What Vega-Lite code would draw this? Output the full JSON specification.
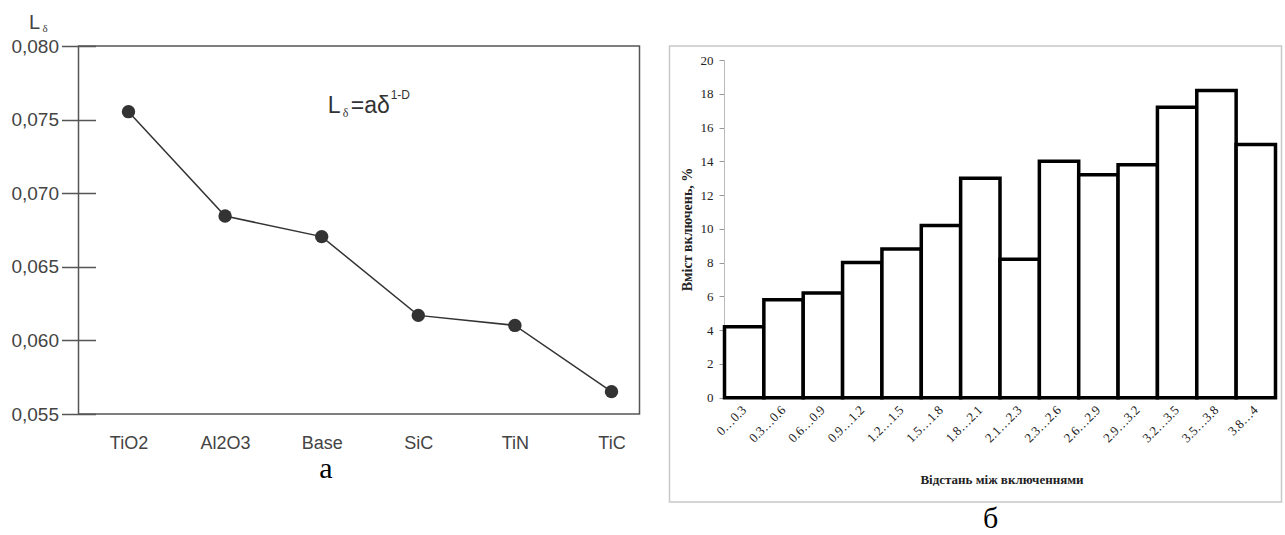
{
  "$schema": "https://vega.github.io/schema/vega-lite/v6.json",
  "background": "white",
  "padding": {"left": 9.5, "top": 11, "right": 0, "bottom": 0},
  "autosize": {"type": "pad"},
  "spacing": 30,
  "bounds": "flush",
  "config": {"font": "Liberation Sans", "axis": {"grid": false}},
  "datasets": {
    "ld": [
      {"material": "TiO2", "L": 0.07554},
      {"material": "Al2O3", "L": 0.06845},
      {"material": "Base", "L": 0.06705},
      {"material": "SiC", "L": 0.0617},
      {"material": "TiN", "L": 0.06102},
      {"material": "TiC", "L": 0.05652}
    ],
    "incl": [
      {"range": "0…0.3", "pct": 4.2},
      {"range": "0.3…0.6", "pct": 5.8},
      {"range": "0.6…0.9", "pct": 6.2},
      {"range": "0.9…1.2", "pct": 8.0},
      {"range": "1.2…1.5", "pct": 8.8},
      {"range": "1.5…1.8", "pct": 10.2},
      {"range": "1.8…2.1", "pct": 13.0},
      {"range": "2.1…2.3", "pct": 8.2},
      {"range": "2.3…2.6", "pct": 14.0},
      {"range": "2.6…2.9", "pct": 13.2},
      {"range": "2.9…3.2", "pct": 13.8},
      {"range": "3.2…3.5", "pct": 17.2},
      {"range": "3.5…3.8", "pct": 18.2},
      {"range": "3.8…4", "pct": 15.0}
    ],
    "one": [{"k": 1}]
  },
  "hconcat": [
    {
      "width": 561,
      "height": 368,
      "view": {"stroke": "#555", "strokeWidth": 1.5},
      "title": {"text": "а", "orient": "bottom", "font": "Liberation Serif", "fontSize": 30, "fontWeight": "normal", "color": "#000", "anchor": "middle", "dx": -33, "offset": 2},
      "layer": [
        {"data": {"name": "ld"}, "mark": {"type": "line", "color": "#333", "strokeWidth": 1.5},
          "encoding": {
            "x": {"field": "material", "type": "nominal", "sort": null,
              "scale": {"type": "point", "padding": 0.4037, "align": 0.641},
              "axis": {"title": null, "domain": false, "ticks": false, "labelAngle": 0, "labelFontSize": 18, "labelColor": "#444", "labelPadding": 20, "labelFont": "Liberation Sans"}},
            "y": {"field": "L", "type": "quantitative",
              "scale": {"domain": [0.055, 0.08], "nice": false, "zero": false},
              "axis": {"values": [0.055, 0.06, 0.065, 0.07, 0.075, 0.08],
                "labelExpr": "replace(format(datum.value, '.3f'), '.', ',')",
                "offset": -17, "domain": false, "tickSize": 34, "tickColor": "#555", "tickWidth": 1.5,
                "labelPadding": 3, "labelFontSize": 19, "labelColor": "#444", "labelFont": "Liberation Sans",
                "title": "L", "titleAngle": 0, "titleX": -67, "titleY": -18, "titleAlign": "left", "titleBaseline": "alphabetic",
                "titleFontSize": 20, "titleFontWeight": "normal", "titleColor": "#444", "titleFont": "Liberation Sans"}}
          }},
        {"data": {"name": "ld"}, "mark": {"type": "point", "filled": true, "size": 180, "color": "#333", "opacity": 1},
          "encoding": {
            "x": {"field": "material", "type": "nominal", "sort": null},
            "y": {"field": "L", "type": "quantitative"}
          }},
        {"data": {"name": "one"}, "mark": {"type": "text", "align": "left", "baseline": "alphabetic", "dx": -86, "dy": -14, "font": "Liberation Serif", "fontSize": 11, "color": "#444"},
          "encoding": {"x": {"datum": "TiO2", "type": "nominal"}, "y": {"datum": 0.08, "type": "quantitative"}, "text": {"value": "δ"}}},
        {"data": {"name": "one"}, "mark": {"type": "text", "align": "left", "baseline": "alphabetic", "dx": 6, "dy": 1, "font": "Liberation Sans", "fontSize": 23, "color": "#333"},
          "encoding": {"x": {"datum": "Base", "type": "nominal"}, "y": {"datum": 0.0755, "type": "quantitative"}, "text": {"value": "L"}}},
        {"data": {"name": "one"}, "mark": {"type": "text", "align": "left", "baseline": "alphabetic", "dx": 21, "dy": 5, "font": "Liberation Serif", "fontSize": 12, "color": "#333"},
          "encoding": {"x": {"datum": "Base", "type": "nominal"}, "y": {"datum": 0.0755, "type": "quantitative"}, "text": {"value": "δ"}}},
        {"data": {"name": "one"}, "mark": {"type": "text", "align": "left", "baseline": "alphabetic", "dx": 29, "dy": 1, "font": "Liberation Sans", "fontSize": 23, "color": "#333"},
          "encoding": {"x": {"datum": "Base", "type": "nominal"}, "y": {"datum": 0.0755, "type": "quantitative"}, "text": {"value": "=aδ"}}},
        {"data": {"name": "one"}, "mark": {"type": "text", "align": "left", "baseline": "alphabetic", "dx": 69, "dy": -13, "font": "Liberation Sans", "fontSize": 12, "color": "#333"},
          "encoding": {"x": {"datum": "Base", "type": "nominal"}, "y": {"datum": 0.0755, "type": "quantitative"}, "text": {"value": "1-D"}}}
      ]
    },
    {
      "width": 612,
      "height": 456,
      "view": {"stroke": "#c8c8c8", "strokeWidth": 1.5},
      "title": {"text": "б", "orient": "bottom", "font": "Liberation Serif", "fontSize": 30, "fontWeight": "normal", "color": "#000", "anchor": "middle", "dx": 15, "offset": 2},
      "layer": [
        {"data": {"name": "one"}, "mark": {"type": "rule", "color": "#bbb", "strokeWidth": 1},
          "encoding": {"x": {"datum": "0…0.3", "type": "nominal", "bandPosition": 0}, "y": {"datum": 0, "type": "quantitative"}, "y2": {"datum": 20}}},
        {"data": {"name": "incl"},
          "mark": {"type": "bar", "fill": "white", "stroke": "black", "strokeWidth": 3.5},
          "encoding": {
            "x": {"field": "range", "type": "nominal", "sort": null,
              "scale": {"type": "band", "paddingInner": 0, "paddingOuter": 0.775, "align": 0.9016},
              "axis": {"title": "Відстань між включеннями", "offset": -104.3, "domain": false, "ticks": false,
                "labelAngle": -45, "labelFont": "Liberation Serif", "labelFontSize": 13, "labelColor": "#222", "labelPadding": 10,
                "titleFont": "Liberation Serif", "titleFontSize": 13, "titleFontWeight": "bold", "titleColor": "#222",
                "titleX": 332, "titleAlign": "center", "titleY": 86, "titleBaseline": "alphabetic"}},
            "y": {"field": "pct", "type": "quantitative",
              "scale": {"domain": [-6.18, 20.83], "nice": false, "zero": false},
              "axis": {"values": [0, 2, 4, 6, 8, 10, 12, 14, 16, 18, 20], "offset": -54.5, "domain": false,
                "tickSize": 5, "tickColor": "#999", "labelFont": "Liberation Serif", "labelFontSize": 13, "labelColor": "#222", "labelPadding": 6,
                "title": "Вміст включень, %", "titleFont": "Liberation Serif", "titleFontSize": 14, "titleFontWeight": "bold",
                "titleX": -37, "titleY": 183, "titleAngle": -90, "titleBaseline": "middle", "titleAlign": "center", "titleColor": "#222"}},
            "y2": {"datum": 0}
          }}
      ]
    }
  ]
}
